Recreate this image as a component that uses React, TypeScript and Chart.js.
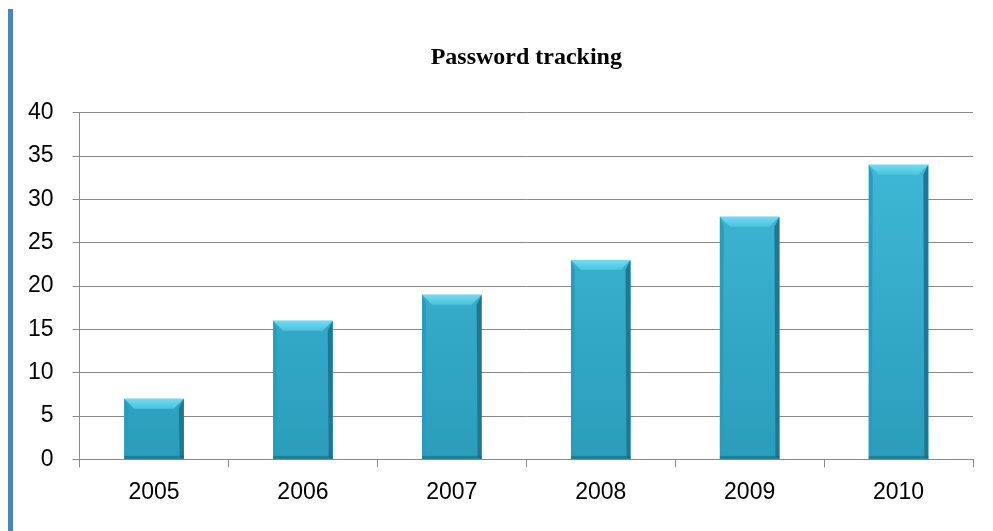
import React, { useEffect, useRef } from "react";
import { Chart, registerables } from "chart.js";

Chart.register(...registerables);

const categories = ["2005", "2006", "2007", "2008", "2009", "2010"];
const values = [7, 16, 19, 23, 28, 34];
const yTicks = [0, 5, 10, 15, 20, 25, 30, 35, 40];
const titleText = "Password tracking";

const bevelPlugin = {
  id: "bevel",
  afterDatasetsDraw(chart: any) {
    const ctx = chart.ctx;
    const meta = chart.getDatasetMeta(0);
    meta.data.forEach((bar: any) => {
      const w = bar.width;
      const l = bar.x - w / 2;
      const r = bar.x + w / 2;
      const t = bar.y;
      const b = bar.base;
      const bv = 10;
      ctx.save();
      // top bevel
      const tg = ctx.createLinearGradient(0, t, 0, t + bv);
      tg.addColorStop(0, "#72DCF0");
      tg.addColorStop(1, "#4AC3DE");
      ctx.fillStyle = tg;
      ctx.beginPath();
      ctx.moveTo(l, t);
      ctx.lineTo(r, t);
      ctx.lineTo(r - bv, t + bv);
      ctx.lineTo(l + bv, t + bv);
      ctx.closePath();
      ctx.fill();
      // right bevel
      ctx.fillStyle = "#1F7892";
      ctx.beginPath();
      ctx.moveTo(r, t);
      ctx.lineTo(r, b);
      ctx.lineTo(r - 4, b - 2);
      ctx.lineTo(r - 5, t + bv);
      ctx.closePath();
      ctx.fill();
      // left bevel
      ctx.fillStyle = "#2A9CBA";
      ctx.beginPath();
      ctx.moveTo(l, t);
      ctx.lineTo(l + 4, t + bv);
      ctx.lineTo(l + 3, b - 2);
      ctx.lineTo(l, b);
      ctx.closePath();
      ctx.fill();
      // bottom shade
      ctx.fillStyle = "rgba(20,90,110,0.45)";
      ctx.fillRect(l, b - 3, w, 3);
      ctx.restore();
    });
  },
};

export default function App() {
  const ref = useRef<HTMLCanvasElement>(null);
  useEffect(() => {
    if (!ref.current) return;
    const chart = new Chart(ref.current, {
      type: "bar",
      data: {
        labels: categories,
        datasets: [
          {
            data: values,
            backgroundColor: (c: any) => {
              const area = c.chart.chartArea;
              if (!area) return "#33AACA";
              const g = c.chart.ctx.createLinearGradient(0, area.top, 0, area.bottom);
              g.addColorStop(0, "#40BCDA");
              g.addColorStop(1, "#2B9DBB");
              return g;
            },
            borderWidth: 0,
            barPercentage: 0.4,
            categoryPercentage: 1,
          },
        ],
      },
      options: {
        animation: false,
        responsive: false,
        maintainAspectRatio: false,
        layout: { padding: { left: 9, right: 20, top: 0, bottom: 14 } },
        plugins: {
          legend: { display: false },
          tooltip: { enabled: false },
          title: {
            display: true,
            text: titleText,
            fullSize: false,
            color: "#000",
            font: { family: "'Liberation Serif'", size: 24, weight: "bold" },
            padding: { top: 43, bottom: 41 },
          },
        },
        scales: {
          x: {
            grid: {
              display: true,
              drawOnChartArea: false,
              drawTicks: true,
              tickLength: 8,
              color: "#888",
              offset: true,
            },
            border: { display: true, color: "#888" },
            ticks: {
              color: "#000",
              font: { family: "'Liberation Sans'", size: 23 },
              padding: 11,
            },
          },
          y: {
            min: 0,
            max: 40,
            afterBuildTicks: (axis: any) => {
              axis.ticks = yTicks.map((v) => ({ value: v }));
            },
            grid: { color: "#888", tickLength: 7 },
            border: { display: true, color: "#888" },
            ticks: {
              color: "#000",
              font: { family: "'Liberation Sans'", size: 23 },
              padding: 19,
            },
          },
        },
      },
      plugins: [bevelPlugin],
    } as any);
    return () => chart.destroy();
  }, []);
  return (
    <div style={{ position: "fixed", left: 0, top: 0, width: 993, height: 531, background: "#fff" }}>
      <div style={{ position: "absolute", left: 8, top: 9, width: 5, height: 522, background: "#4F81BD" }} />
      <canvas ref={ref} width={993} height={531} style={{ position: "absolute", left: 0, top: 0 }} />
    </div>
  );
}
